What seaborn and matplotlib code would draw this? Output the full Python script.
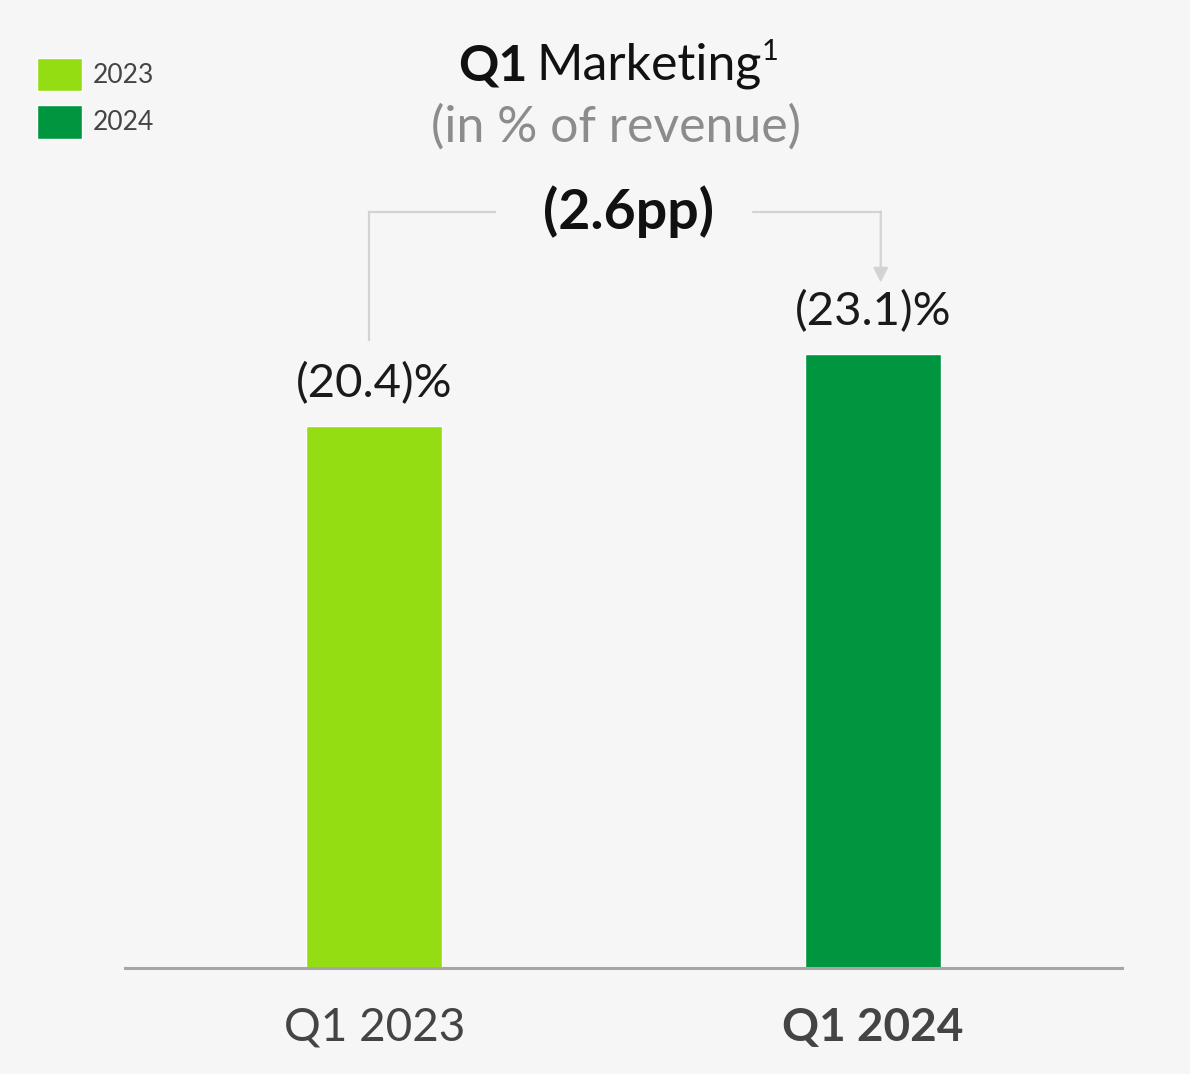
import matplotlib
matplotlib.use("Agg")
import matplotlib.pyplot as plt
import seaborn as sns
import pandas as pd

# dados do gráfico
categorias = ["Q1 2023", "Q1 2024"]
anos = ["2023", "2024"]
valores = [20.4, 23.1]
rotulos = ["(20.4)%", "(23.1)%"]
variacao = "(2.6pp)"
cores = ["#95DD13", "#009640"]

df = pd.DataFrame({"periodo": categorias, "ano": anos, "valor": valores})

sns.set_theme(style="white")
plt.rcParams["font.family"] = ["Lato", "DejaVu Sans"]

fundo = "#F6F6F6"
W, H = 1190, 1074
fig = plt.figure(figsize=(11.9, 10.74), dpi=100, facecolor=fundo)
# eixo: base em y=968px, topo em y=100px
ax = fig.add_axes([125 / W, (H - 968) / H, 997 / W, 868 / H])
ax.set_facecolor(fundo)

sns.barplot(data=df, x="periodo", y="valor", hue="ano", palette=cores,
            width=0.273, dodge=False, ax=ax, saturation=1)

px_por_unidade = 542 / 20.4
ax.set_ylim(0, 868 / px_por_unidade)
ax.set_xlim(-0.5, 1.5)

for sp in ["top", "left", "right"]:
    ax.spines[sp].set_visible(False)
ax.spines["bottom"].set_color("#A6A6A6")
ax.spines["bottom"].set_linewidth(2.2)
ax.set_yticks([])
ax.set_xlabel("")
ax.set_ylabel("")
ax.tick_params(axis="x", length=0, pad=28, labelsize=33, labelcolor="#444444")
for i, t in enumerate(ax.get_xticklabels()):
    if i == 1:
        t.set_fontweight("bold")

# rótulos das barras
for i, (v, r) in enumerate(zip(valores, rotulos)):
    ax.text(i, v + 0.8, r, ha="center", va="bottom", fontsize=34, color="#1a1a1a")

# colchete com a variação
cinza = "#D3D3D3"
topo = max(valores) + 5.35
ax.plot([-0.01, -0.01, 0.245], [valores[0] + 3.2, topo, topo], color=cinza, lw=1.6,
        solid_capstyle="butt", solid_joinstyle="miter")
ax.plot([0.76, 1.016], [topo, topo], color=cinza, lw=1.6)
ax.annotate("", xy=(1.016, valores[1] + 2.7), xytext=(1.016, topo + 0.03),
            arrowprops=dict(arrowstyle="-|>", color=cinza, lw=1.6,
                            mutation_scale=22, shrinkA=0, shrinkB=0))
ax.text(0.51, topo, variacao, ha="center", va="center", fontsize=40,
        fontweight="bold", color="#111111")

# título em partes: "Q1" negrito + " Marketing" + sobrescrito
fig.canvas.draw()
r = fig.canvas.get_renderer()
y_tit = 1 - 66 / H
t1 = fig.text(458 / W, y_tit, "Q1", ha="left", va="center", fontsize=36,
              fontweight="bold", color="#111111")
x1 = t1.get_window_extent(r).x1
t2 = fig.text((x1 + 9) / W, y_tit, "Marketing", ha="left", va="center",
              fontsize=36, color="#111111")
x2 = t2.get_window_extent(r).x1
fig.text((x2 + 0) / W, 1 - 52 / H, "1", ha="left", va="center", fontsize=21,
         color="#111111")
fig.text(616 / W, 1 - 127 / H, "(in % of revenue)", ha="center", va="center",
         fontsize=36, color="#8C8C8C")

# legenda
leg = ax.legend(loc="upper left", bbox_to_anchor=(26 / W, 1 - 47 / H),
                bbox_transform=fig.transFigure, frameon=False, fontsize=19,
                handlelength=1.72, handleheight=1.6, labelspacing=0.5,
                handletextpad=0.42, borderaxespad=0)
for t in leg.get_texts():
    t.set_color("#444444")

fig.savefig("out.png", dpi=100, facecolor=fundo)
